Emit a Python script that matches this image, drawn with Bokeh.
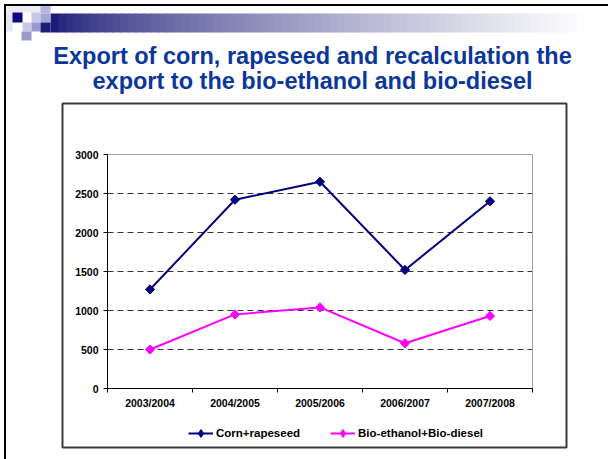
import math
from bokeh.plotting import figure
from bokeh.models import Range1d, FixedTicker, Legend, LegendItem
from bokeh.core.properties import value
from bokeh.embed import file_html
from bokeh.resources import INLINE

# ---------------- data ----------------
seasons = ["2003/2004", "2004/2005", "2005/2006", "2006/2007", "2007/2008"]
corn_rapeseed = [1270, 2420, 2650, 1520, 2400]
bio_fuel = [500, 950, 1040, 580, 930]
y_ticks = [0, 500, 1000, 1500, 2000, 2500, 3000]
series_names = ["Corn+rapeseed", "Bio-ethanol+Bio-diesel"]
title_lines = ["Export of corn, rapeseed and recalculation the",
               "export to the bio-ethanol and bio-diesel"]

FONT = "Liberation Sans"
W, H = 608, 459
# page-pixel layout
PX_L, PX_R, PX_T, PX_B = 0, W, 0, H
PLOT_L, PLOT_R, PLOT_T, PLOT_B = 107, 532, 154, 388

n = len(seasons)
ux = (PLOT_R - PLOT_L) / n
uy = (PLOT_B - PLOT_T) / y_ticks[-1]

p = figure(width=W, height=H, output_backend="svg", toolbar_location=None,
           title=None,
           x_range=Range1d((PX_L - PLOT_L) / ux, (PX_R - PLOT_L) / ux),
           y_range=Range1d(-(PX_B - PLOT_B) / uy, (PLOT_B - PX_T) / uy),
           min_border=0, min_border_left=0, min_border_right=0,
           min_border_top=0, min_border_bottom=0,
           background_fill_color="white", border_fill_color="white")
p.outline_line_color = None
p.extra_x_ranges = {"px": Range1d(PX_L, PX_R)}
p.extra_y_ranges = {"px": Range1d(PX_B, PX_T)}


def pbox(l, t, r, b, fill=None, line=None, lw=1):
    p.quad(left=[l], right=[r], top=[t], bottom=[b],
           x_range_name="px", y_range_name="px",
           fill_color=fill if fill else "white", fill_alpha=1 if fill else 0,
           line_color=line if line else None, line_width=lw)


# ---------------- slide decoration ----------------
x0, x1 = 50, 592
steps = 70
c0 = (28, 28, 120)
c1 = (255, 255, 255)
for i in range(steps):
    t = (i / (steps - 1)) ** 0.7
    col = "#%02x%02x%02x" % tuple(int(round(a + (b - a) * t)) for a, b in zip(c0, c1))
    lx = x0 + (x1 - x0) * i / steps
    rx = x0 + (x1 - x0) * (i + 1) / steps + 0.8
    pbox(lx, 13, rx, 32, fill=col)

pbox(5.5, 5.5, 40, 12, fill="#ececf6")
pbox(5.5, 12, 12, 31, fill="#e6e6f3")
pbox(12, 12, 22, 22, fill="#0a0a80")
pbox(31, 12, 40, 22, fill="#c8c8e6")
pbox(40, 5.5, 50, 13, fill="#b4b4dc")
pbox(40, 13, 50, 22, fill="#a6a6d4")
pbox(22, 22, 31, 31, fill="#c8c8e6")
pbox(31, 22, 40, 31, fill="#9999cc")
pbox(40, 22, 50, 32, fill="#1e1e7a")
pbox(21, 31, 31, 40, fill="#9999cc")

# slide border (top and left)
pbox(3.5, 3.5, 608, 5.5, fill="black")
pbox(3.5, 3.5, 5.5, 459, fill="black")

# chart box
pbox(62, 103, 566, 447, line="#3a3a3a", lw=2)

# title
p.text(x=[312, 312], y=[55, 80], text=title_lines,
       x_range_name="px", y_range_name="px",
       text_align="center", text_baseline="alphabetic",
       text_font=value(FONT), text_font_size="23.5px", text_font_style="bold",
       text_color="#0a3799")

# ---------------- chart ----------------
xs = [i + 0.5 for i in range(n)]

# dashed horizontal gridlines, limited to the plot area
grid_vals = y_ticks[1:-1]
p.segment(x0=[0] * len(grid_vals), x1=[n] * len(grid_vals), y0=grid_vals, y1=grid_vals,
          line_color="#333333", line_width=1, line_dash="6 4")

# plot-area border (gray)
p.quad(left=[0], right=[n], bottom=[0], top=[y_ticks[-1]],
       fill_alpha=0, line_color="#a0a0a0", line_width=1)

p.xgrid.visible = False
p.ygrid.visible = False

yax = p.yaxis[0]
yax.fixed_location = 0
yax.bounds = (0, y_ticks[-1])
yax.ticker = FixedTicker(ticks=y_ticks)
yax.major_tick_out = 4
yax.major_tick_in = 0
yax.minor_tick_out = 0
yax.minor_tick_in = 0
yax.axis_line_color = "black"
yax.major_tick_line_color = "black"
yax.major_label_standoff = 5
yax.major_label_text_font = FONT
yax.major_label_text_font_size = "10.5px"
yax.major_label_text_font_style = "bold"
yax.major_label_text_color = "black"

xax = p.xaxis[0]
xax.fixed_location = 0
xax.bounds = (0, n)
xax.ticker = FixedTicker(ticks=xs, minor_ticks=list(range(n + 1)))
xax.major_label_overrides = {x: s for x, s in zip(xs, seasons)}
xax.major_tick_out = 0
xax.major_tick_in = 0
xax.minor_tick_out = 4
xax.minor_tick_in = 0
xax.minor_tick_line_color = "black"
xax.axis_line_color = "black"
xax.major_label_standoff = 4
xax.major_label_text_font = FONT
xax.major_label_text_font_size = "10.5px"
xax.major_label_text_font_style = "bold"
xax.major_label_text_color = "black"

colors = ["#000080", "#ff00ff"]
items = []
for name, vals, col in zip(series_names, [corn_rapeseed, bio_fuel], colors):
    ln = p.line(xs, vals, line_color=col, line_width=2)
    # diamond used for the legend swatch (hidden beneath the plotted markers)
    lg = p.scatter(xs, vals, marker="diamond", size=6, fill_color=col, line_color=col,
                   line_width=1)
    p.scatter(xs, vals, marker="square", angle=math.pi / 4, size=6.5,
              fill_color=col, line_color=col)
    items.append(LegendItem(label=name, renderers=[ln, lg]))

legend = Legend(items=items, orientation="horizontal",
                location=(188 - PX_L, PX_B - 443),
                glyph_width=25, glyph_height=20, label_height=20,
                label_standoff=3, spacing=30, padding=0, margin=0,
                border_line_alpha=0, background_fill_alpha=0,
                label_text_font=FONT, label_text_font_size="11.5px",
                label_text_font_style="bold", label_text_color="black")
p.add_layout(legend)

open("out.html", "w").write(file_html(p, INLINE))
